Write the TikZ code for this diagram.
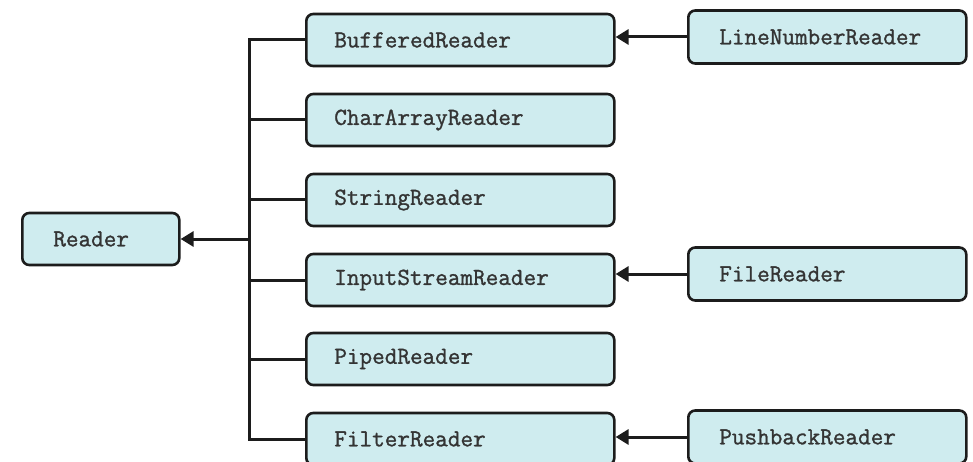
\documentclass[tikz,border=0pt]{standalone}
\usepackage{fontspec}
\setmonofont{Latin Modern Mono}[FakeBold=1.2]
\usetikzlibrary{arrows.meta}
\definecolor{boxfill}{HTML}{CFECEF}
\definecolor{boxline}{HTML}{1C1C1C}
\definecolor{labeltext}{HTML}{343434}
\begin{document}
\begin{tikzpicture}[x=1pt,y=-1pt,
  cls/.style={draw=boxline, line width=2.6pt, fill=boxfill, rounded corners=7pt,
    anchor=west, minimum height=52pt, inner ysep=0pt, align=left,
    font=\fontsize{24.5}{25}\selectfont\ttfamily, text=labeltext},
  base/.style={cls, inner xsep=31pt, text width=95pt},
  sub/.style={cls, inner xsep=28pt, text width=252pt},
  subsub/.style={cls, inner xsep=31pt, text width=216pt, minimum height=53pt},
  link/.style={draw=boxline, line width=3pt},
  inherit/.style={link, -{Triangle[length=13pt,width=15pt]}}]
\useasboundingbox (0,0) rectangle (973,462);

% root class
\node[base] (reader) at (21,239) {Reader};

% direct subclasses
\node[sub] (buf) at (305,40)  {BufferedReader};
\node[sub] (car) at (305,120) {CharArrayReader};
\node[sub] (str) at (305,200) {StringReader};
\node[sub] (isr) at (305,280) {InputStreamReader};
\node[sub] (pip) at (305,359) {PipedReader};
\node[sub] (flt) at (305,439) {FilterReader};

% second-level subclasses
\node[subsub] (lnr) at (687,37)  {LineNumberReader};
\node[subsub] (fil) at (687,274) {FileReader};
\node[subsub] (pbr) at (687,437) {PushbackReader};

% shared trunk of the first-level hierarchy
\coordinate (bot) at (249,439);
\draw[link] (buf.west) -| (bot) -- (flt.west);
\foreach \n in {car,str,isr,pip}
  \draw[link] (\n.west) -- (\n.west -| bot);
\draw[inherit] (reader.east -| bot) -- (reader.east);

% second-level inheritance arrows
\draw[inherit] (lnr.west) -- (lnr.west -| buf.east);
\draw[inherit] (fil.west) -- (fil.west -| isr.east);
\draw[inherit] (pbr.west) -- (pbr.west -| flt.east);
\end{tikzpicture}
\end{document}
